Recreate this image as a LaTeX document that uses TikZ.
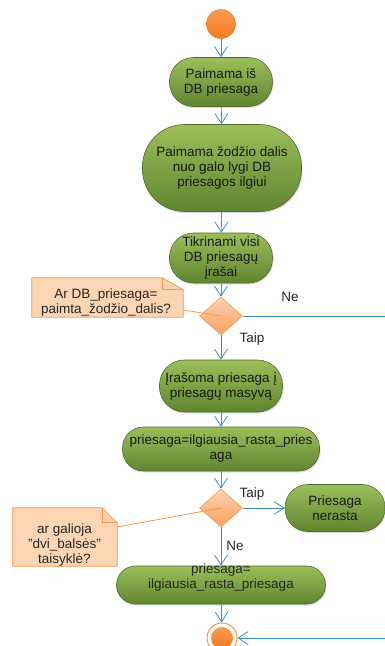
\documentclass[tikz,border=0pt]{standalone}
\usepackage{fontspec}
\setmainfont{Liberation Sans}
\usetikzlibrary{arrows.meta,shapes.geometric,shadows}
\definecolor{flow}{HTML}{3A8FCE}
\definecolor{acttop}{HTML}{9CBF5A}
\definecolor{actbot}{HTML}{5F8530}
\definecolor{actborder}{HTML}{4E6B26}
\definecolor{orng}{HTML}{F47A20}
\definecolor{orngtop}{HTML}{F89A50}
\definecolor{dtop}{HTML}{FDD3B0}
\definecolor{dbot}{HTML}{F8A063}
\definecolor{dborder}{HTML}{F79646}
\definecolor{notefill}{HTML}{FCD5B5}
\tikzset{
  act/.style={draw=actborder, line width=0.6pt, top color=acttop, bottom color=actbot,
    rounded corners=#1, align=center, inner sep=0pt, text=black!90,
    drop shadow={opacity=0.25, shadow xshift=1pt, shadow yshift=-1.5pt}},
  act/.default=20pt,
  decision/.style={diamond, draw=dborder, line width=0.6pt, top color=dtop, bottom color=dbot,
    inner sep=0pt, minimum width=43pt, minimum height=38pt},
  flowline/.style={draw=flow, line width=0.8pt, -{Straight Barb[length=10pt,width=13pt,line width=0.8pt]}},
  flowplain/.style={draw=flow, line width=0.8pt},
  notebox/.style={rectangle, inner sep=0pt},
  noteshape/.style={draw=dborder, fill=notefill, line width=0.8pt, line join=miter},
  noteline/.style={draw=dborder, line width=0.8pt},
  notetext/.style={align=center, inner sep=0pt, text=black!85},
  guard/.style={inner sep=0pt, text=black!85},
}
\begin{document}
\begin{tikzpicture}[x=1pt,y=-1pt, font=\fontsize{13.5}{15}\selectfont]
\useasboundingbox (0,0) rectangle (385,646);
\clip (0,0) rectangle (385,646);

% start
\node[circle, inner sep=0pt, minimum size=29pt, top color=orngtop, bottom color=orng, draw=orng!90!black, line width=0.4pt] (start) at (221,24) {};

% activities
\node[act=24pt, minimum width=103pt, minimum height=49pt] (n1) at (221,82) {Paimama iš\\DB priesaga};
\node[act=42pt, minimum width=159pt, minimum height=87pt] (n2) at (222,168) {Paimama žodžio dalis\\nuo galo lygi DB\\priesagos ilgiui};
\node[act=24pt, minimum width=103pt, minimum height=50pt] (n3) at (221,258) {Tikrinami visi\\DB priesagų\\įrašai};
\node[decision] (d1) at (221,316) {};
\node[act=25pt, minimum width=123pt, minimum height=52pt] (n4) at (221,386) {Įrašoma priesaga į\\priesagų masyvą};
\node[act=21pt, minimum width=197pt, minimum height=44pt] (n5) at (221,449) {priesaga=ilgiausia\_rasta\_pries\\aga};
\node[decision] (d2) at (221,508) {};
\node[act=23pt, minimum width=100pt, minimum height=47pt] (n6) at (335,508) {Priesaga\\nerasta};
\node[act=19pt, minimum width=209pt, minimum height=38pt] (n7) at (221,585) {};
\node[notetext] (n7t) at (221,578) {priesaga=\\ilgiausia\_rasta\_priesaga};

% end
\node[circle, inner sep=0pt, minimum size=30pt, draw=dborder, line width=1pt, fill=white] (endc) at (222,638) {};
\node[circle, inner sep=0pt, minimum size=22pt, top color=orngtop, bottom color=orng] (endin) at (endc.center) {};

% notes
\node[notebox, minimum width=151pt, minimum height=39pt] (note1) at (107.5,297.5) {};
\draw[noteshape] (note1.north west) -- ([xshift=-21pt]note1.north east) -- ([yshift=-12pt]note1.north east) -- (note1.south east) -- (note1.south west) -- cycle;
\draw[noteshape, fill=none] ([xshift=-21pt]note1.north east) -- ([xshift=-21pt,yshift=-12pt]note1.north east) -- ([yshift=-12pt]note1.north east);
\node[notetext] (note1t) at (106,303) {Ar DB\_priesaga=\\paimta\_žodžio\_dalis?};

\node[notebox, minimum width=104pt, minimum height=58pt] (note2) at (65,537) {};
\draw[noteshape] (note2.north west) -- ([xshift=-15pt]note2.north east) -- ([yshift=-15pt]note2.north east) -- (note2.south east) -- (note2.south west) -- cycle;
\draw[noteshape, fill=none] ([xshift=-15pt]note2.north east) -- ([xshift=-15pt,yshift=-15pt]note2.north east) -- ([yshift=-15pt]note2.north east);
\node[notetext] (note2t) at (64.5,545) {ar galioja\\"dvi\_balsės"\\taisyklė?};

% flows
\draw[flowline] (start) -- (n1);
\draw[flowline] (n1) -- (n2);
\draw[flowline] (n2) -- (n3);
\draw[flowline] (n3) -- (d1);
\draw[flowline] (d1) -- (n4);
\draw[flowline] (n4) -- (n5);
\draw[flowline] (n5) -- (d2);
\draw[flowline] (d2) -- (n6);
\draw[flowline] (d2) -- (n7);
\draw[flowline] (n7) -- (endc);
\coordinate (offR1) at (400,316);
\coordinate (offR2) at (400,638);
\draw[flowplain] (d1.east) -- (offR1);
\draw[flowline] (offR2) -- (endc.east);

% note connectors
\draw[noteline] ([yshift=-12.5pt]note1.east) -- (d1.center);
\draw[noteline] ([yshift=10pt]note2.east) -- (d2.center);

% guards
\node[guard] (g1) at (290,297) {Ne};
\node[guard] (g2) at (252,339) {Taip};
\node[guard] (g3) at (252,494) {Taip};
\node[guard] (g4) at (235,546) {Ne};
\end{tikzpicture}
\end{document}
